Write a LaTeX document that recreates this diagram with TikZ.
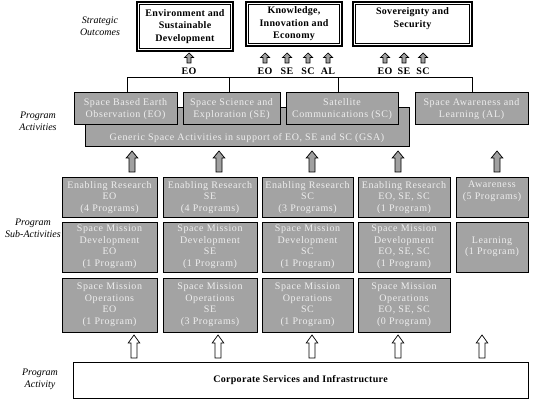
\documentclass[tikz,border=0pt]{standalone}
\usepackage{fontspec}
\setmainfont{Liberation Serif}
\newfontfamily\gfont[LetterSpace=6]{Liberation Serif}
\newfontfamily\bfont[LetterSpace=3]{Liberation Serif}
\definecolor{boxgray}{HTML}{A3A3A3}
\definecolor{txtgray}{HTML}{EEEEEE}
\definecolor{arrgray}{HTML}{A0A0A0}
\newcommand{\blockarrow}[7]{%
 \draw[#1] (#2-#5,#3) -- (#2-#5,#4+#7) -- (#2-#6,#4+#7) -- (#2,#4) -- (#2+#6,#4+#7) -- (#2+#5,#4+#7) -- (#2+#5,#3) -- cycle;}
\tikzset{
 gbox/.style={draw=black, line width=1pt, fill=boxgray, text=txtgray, align=center, inner sep=0pt, font=\gfont\fontsize{10}{11.5}\selectfont},
 gtext/.style={text=txtgray, align=center, inner sep=0pt, font=\gfont\fontsize{10}{11.5}\selectfont},
 obox/.style={draw=black, line width=2pt, fill=white, align=center, inner sep=0pt, font=\bfont\bfseries\fontsize{10}{12.5}\selectfont},
 lbl/.style={align=center, inner sep=0pt, font=\itshape\fontsize{10}{12}\selectfont},
 cbox/.style={draw=black, line width=1pt, fill=white, inner sep=0pt, font=\bfont\bfseries\fontsize{10}{12}\selectfont},
 garrow/.style={draw=black, line width=0.7pt, fill=arrgray},
 harrow/.style={draw=black, line width=0.7pt, fill=white},
 tag/.style={font=\bfont\bfseries\fontsize{10}{12}\selectfont, inner sep=0pt},
 inner/.style={draw=black, line width=0.6pt}
}
\begin{document}
\begin{tikzpicture}[x=1pt,y=-1pt]
\useasboundingbox (0,0) rectangle (537,403);
% left labels
\node[lbl] (so) at (100,26) {Strategic\\Outcomes};
\node[lbl] (pa) at (38,121) {Program\\Activities};
\node[lbl] (psa) at (33,228) {Program\\Sub-Activities};
\node[lbl] (pact) at (40,379) {Program\\Activity};
% strategic outcomes
\node[obox, minimum width=96pt, minimum height=49pt] (b1) at (185,26.5) {Environment and\\Sustainable\\Development};
\node[obox, minimum width=96pt, minimum height=44pt] (b2) at (294,24) {Knowledge,\\Innovation and\\Economy};
\node[obox, minimum width=119pt, minimum height=44pt] (b3) at (412.5,24) {Sovereignty and\\Security\\\mbox{}};
\foreach \b in {b1,b2,b3}{
 \draw[inner] ([shift={(3.5,3.5)}]\b.north west) rectangle ([shift={(-3.5,-3.5)}]\b.south east);
}
% small arrows and tags
\foreach \x/\t in {189/EO,265/EO,287/SE,308/SC,328/AL,385/EO,404/SE,423/SC}{
 \blockarrow{garrow}{\x}{63}{53}{2}{4.5}{4.5}
 \node[tag] (tag\x) at (\x,71) {\t};
}
% activities
\node[gbox, minimum width=324pt, minimum height=39pt] (gsa) at (247,127.5) {};
\node[gtext] (gsat) at (247,138) {Generic Space Activities in support of EO, SE and SC (GSA)};
\node[gbox, minimum width=103pt, minimum height=32pt] (eo) at (125.5,109) {Space Based Earth\\Observation (EO)};
\node[gbox, minimum width=97pt, minimum height=32pt] (se) at (231.5,109) {Space Science and\\Exploration (SE)};
\node[gbox, minimum width=112pt, minimum height=32pt] (sc) at (342,109) {Satellite\\Communications (SC)};
\node[gbox, minimum width=113pt, minimum height=32pt] (al) at (471.5,109) {Space Awareness and\\Learning (AL)};
% bus line
\coordinate (t1) at (127,77);
\coordinate (t2) at (229,77);
\coordinate (t3) at (338,77);
\coordinate (t4) at (472,77);
\draw[line width=0.7pt] (t1 |- eo.north) -- (t1) -- (t4) -- (t4 |- al.north);
\draw[line width=0.7pt] (t2) -- (t2 |- se.north);
\draw[line width=0.7pt] (t3) -- (t3 |- sc.north);
% gray arrows
\foreach \x in {132,219,312,398,497}{
 \blockarrow{garrow}{\x}{172}{151}{3}{5.8}{7}
}
% sub-activities
\node[gbox, minimum width=95pt, minimum height=39pt] (r1c1) at (109.5,197.5) {Enabling Research\\EO\\(4 Programs)};
\node[gbox, minimum width=94pt, minimum height=39pt] (r1c2) at (210,197.5) {Enabling Research\\SE\\(4 Programs)};
\node[gbox, minimum width=91pt, minimum height=39pt] (r1c3) at (307.5,197.5) {Enabling Research\\SC\\(3 Programs)};
\node[gbox, minimum width=92pt, minimum height=39pt] (r1c4) at (404,197.5) {Enabling Research\\EO, SE, SC\\(1 Program)};
\node[gbox, minimum width=72pt, minimum height=39pt] (r1c5) at (492,197.5) {};
\node[gtext] (r1c5t) at (492,191.5) {Awareness\\(5 Programs)};
\node[gbox, minimum width=95pt, minimum height=50pt] (r2c1) at (109.5,247) {Space Mission\\Development\\EO\\(1 Program)};
\node[gbox, minimum width=94pt, minimum height=50pt] (r2c2) at (210,247) {Space Mission\\Development\\SE\\(1 Program)};
\node[gbox, minimum width=91pt, minimum height=50pt] (r2c3) at (307.5,247) {Space Mission\\Development\\SC\\(1 Program)};
\node[gbox, minimum width=92pt, minimum height=50pt] (r2c4) at (404,247) {Space Mission\\Development\\EO, SE, SC\\(1 Program)};
\node[gbox, minimum width=72pt, minimum height=50pt] (r2c5) at (492,247) {};
\node[gtext] (r2c5t) at (492,247) {Learning\\(1 Program)};
\node[gbox, minimum width=95pt, minimum height=54pt] (r3c1) at (109.5,305) {Space Mission\\Operations\\EO\\(1 Program)};
\node[gbox, minimum width=94pt, minimum height=54pt] (r3c2) at (210,305) {Space Mission\\Operations\\SE\\(3 Programs)};
\node[gbox, minimum width=91pt, minimum height=54pt] (r3c3) at (307.5,305) {Space Mission\\Operations\\SC\\(1 Program)};
\node[gbox, minimum width=92pt, minimum height=54pt] (r3c4) at (404,305) {Space Mission\\Operations\\EO, SE, SC\\(0 Program)};
% hollow arrows
\foreach \x in {134,218,312,398,482}{
 \blockarrow{harrow}{\x}{358}{335}{3}{5.8}{8}
}
% corporate services
\node[cbox, minimum width=455pt, minimum height=36pt] (csi) at (300.5,380) {Corporate Services and Infrastructure};
\end{tikzpicture}
\end{document}
